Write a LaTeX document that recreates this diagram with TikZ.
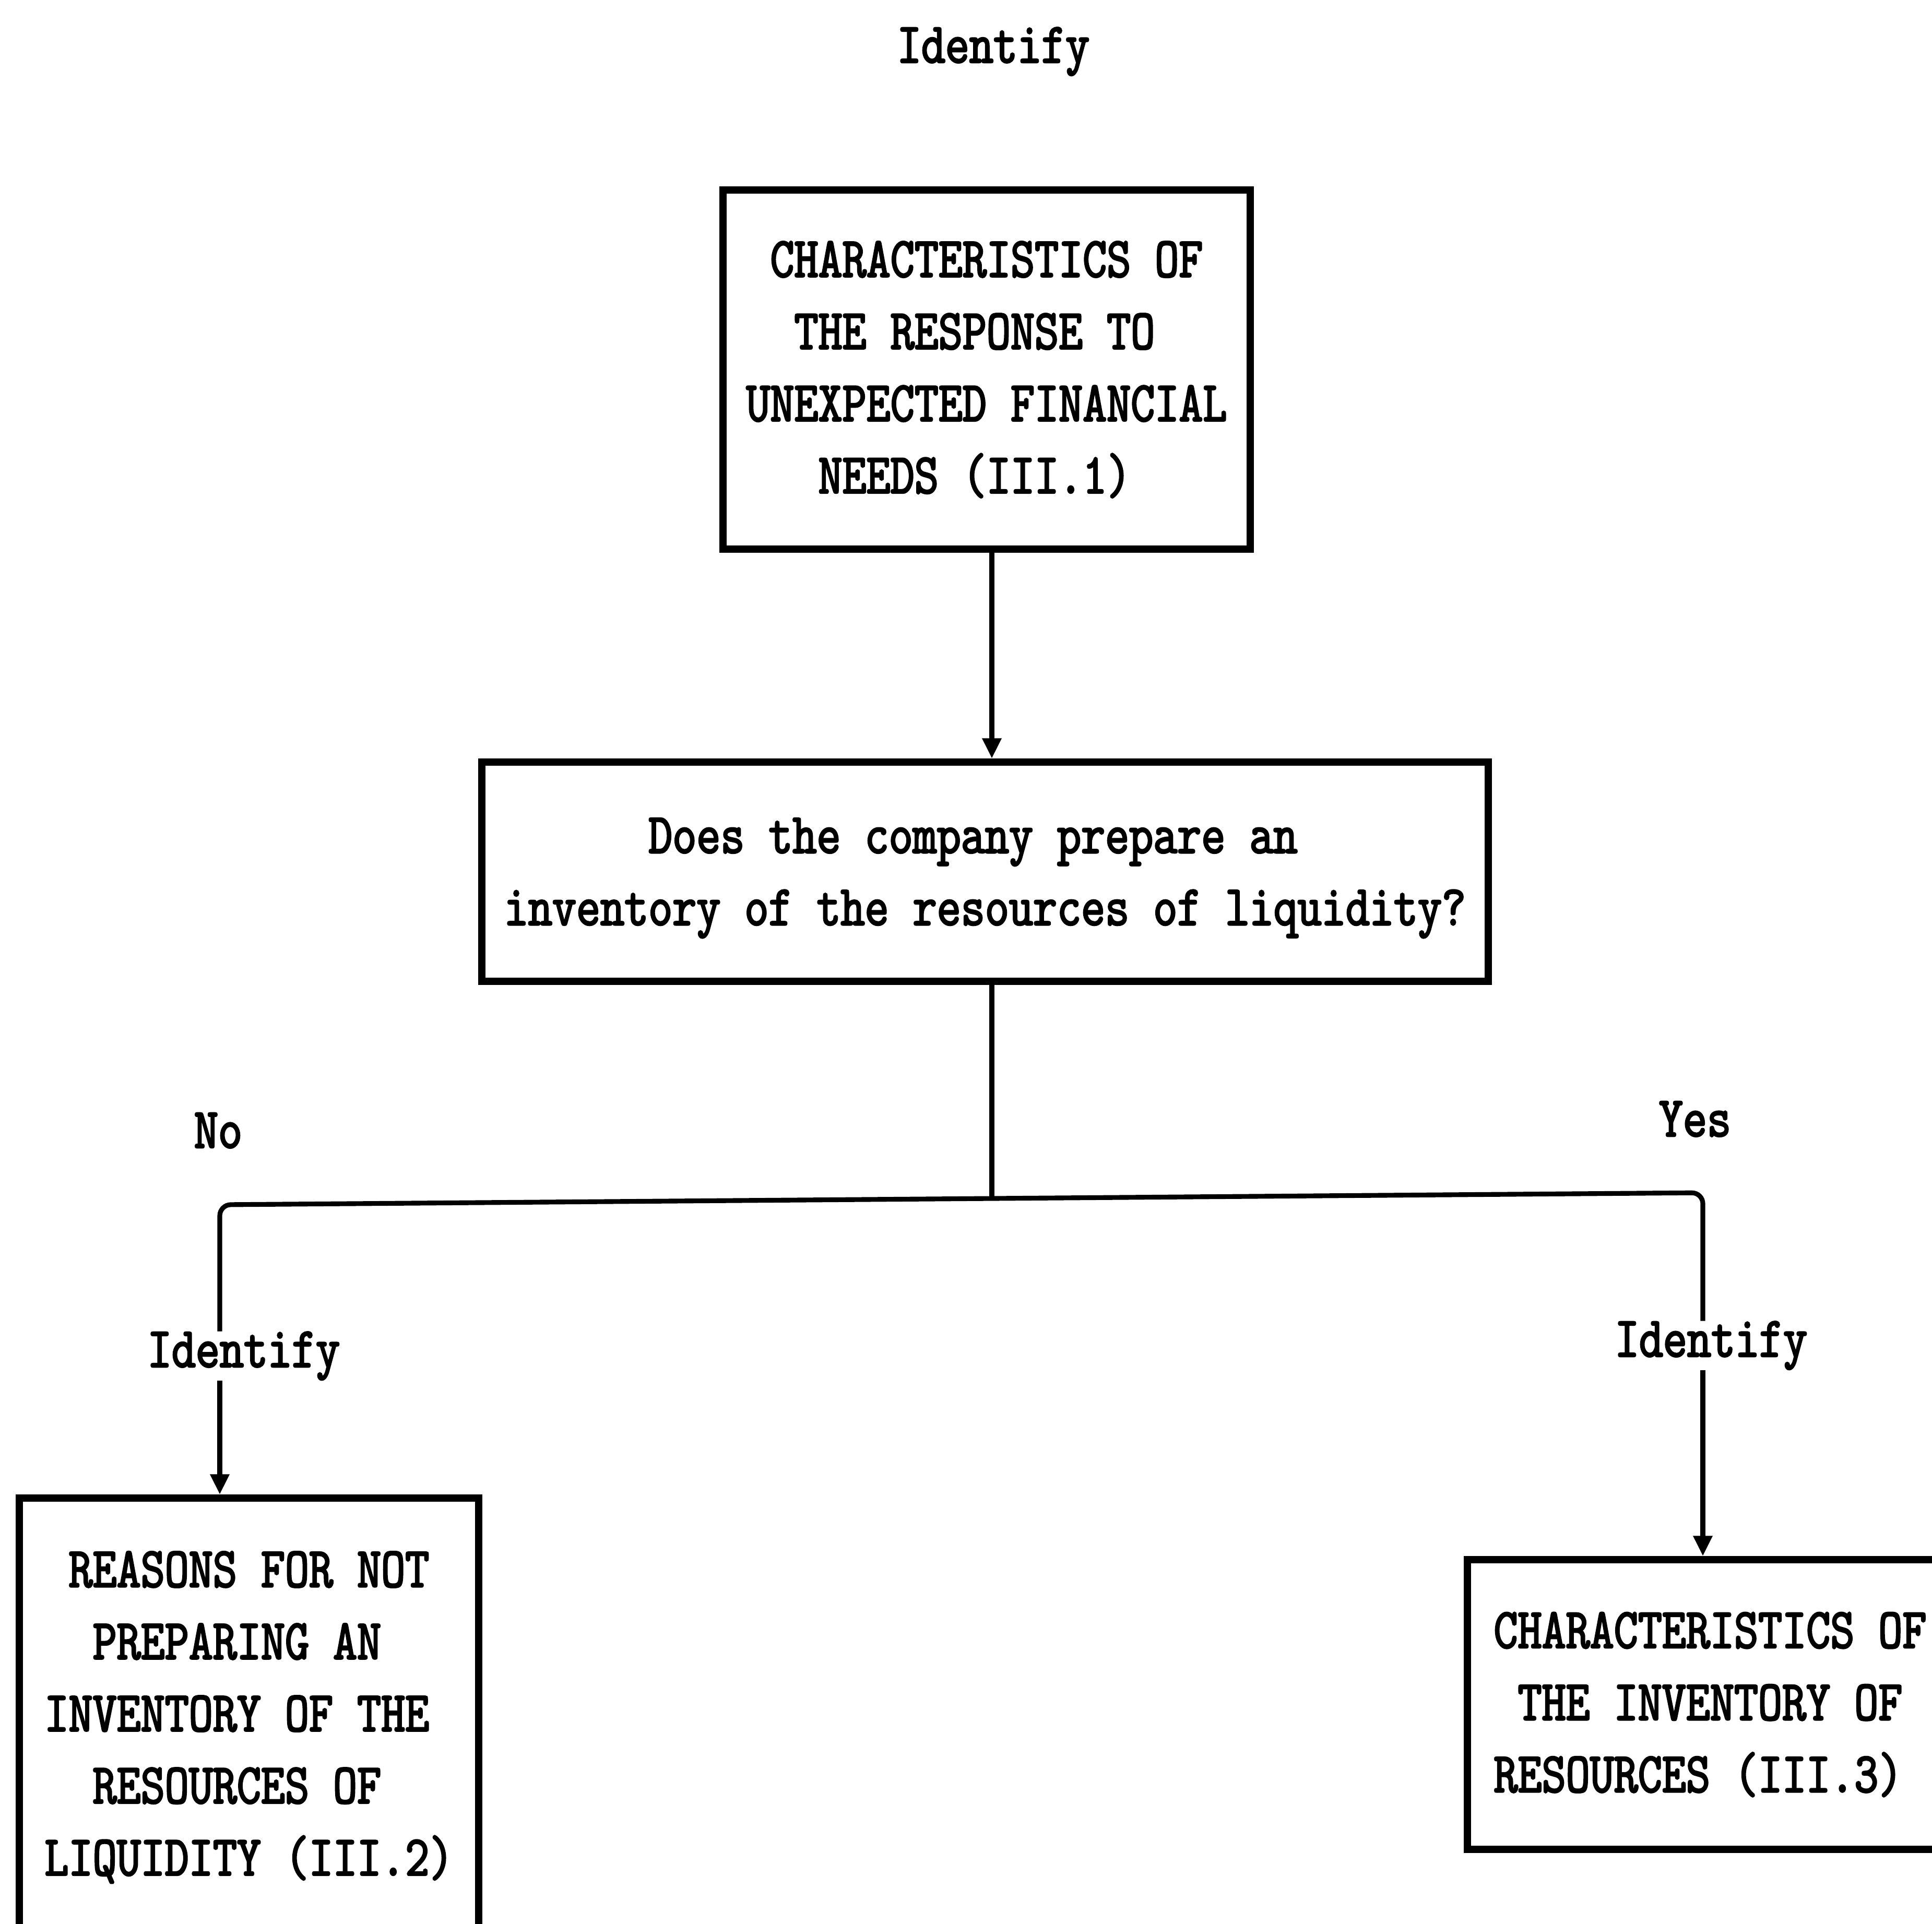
\documentclass[tikz,border=0pt]{standalone}
\usepackage{fontspec}
\newfontfamily\tw{lmmono10-regular.otf}[FakeStretch=0.8,FakeBold=2.5]
\usetikzlibrary{arrows.meta}
\newcommand\pp[1]{\phantom{#1}}
\begin{document}
\begin{tikzpicture}[
  txt/.style={font=\tw\fontsize{31.2}{39.3}\selectfont},
  boxn/.style={txt, draw, line width=4pt, inner sep=0pt, align=left},
  lbl/.style={txt, inner sep=0pt, anchor=base},
  conn/.style={line width=2.6pt},
  arr/.style={conn, -{Triangle[length=11pt,width=10pt]}}
]
\useasboundingbox (0,0) rectangle (37.01,-36.85);
\fill[white] (0,0) rectangle (37.01,-36.85);

\node[lbl] (idT) at (19.03,-1.20) {Identify};

\node[boxn, minimum width=10.10cm, minimum height=6.88cm] (top) at (18.90,-7.08)
  {\pp{X}CHARACTERISTICS OF\\\pp{XX}THE RESPONSE TO\\UNEXPECTED FINANCIAL\\\pp{XXX}NEEDS (III.1)};

\node[boxn, minimum width=19.28cm, minimum height=4.20cm] (mid) at (18.87,-16.70)
  {\rule{0pt}{26pt}\pp{XXXXXX}Does the company prepare an\\inventory of the resources of liquidity?};

\node[boxn, minimum width=8.80cm, minimum height=8.40cm] (lbox) at (4.77,-32.90)
  {\pp{X}REASONS FOR NOT\\\pp{XX}PREPARING AN\\INVENTORY OF THE\\\pp{XX}RESOURCES OF\\LIQUIDITY (III.2)};

\node[boxn, minimum width=9.30cm, minimum height=5.55cm] (rbox) at (32.76,-32.655)
  {CHARACTERISTICS OF\\\pp{X}THE INVENTORY OF\\RESOURCES (III.3)};

\node[lbl] (no) at (4.18,-21.99) {No};
\node[lbl] (yes) at (32.47,-21.77) {Yes};
\node[lbl] (idL) at (4.67,-26.19) {Identify};
\node[lbl] (idR) at (32.78,-25.99) {Identify};

\coordinate (jc) at (19.00,-22.96);
\coordinate (jl) at (4.21,-23.08);
\coordinate (jr) at (32.62,-22.85);

\draw[arr] (top.south -| jc) -- (mid.north -| jc);
\draw[conn] (mid.south -| jc) -- (jc);
\draw[conn, rounded corners=6pt] (jc) -- (jl) -- (jl |- idL.north);
\draw[arr] (jl |- idL.south) -- (jl |- lbox.north);
\draw[conn, rounded corners=6pt] (jc) -- (jr) -- (jr |- idR.north);
\draw[arr] (jr |- idR.south) -- (jr |- rbox.north);
\end{tikzpicture}
\end{document}
